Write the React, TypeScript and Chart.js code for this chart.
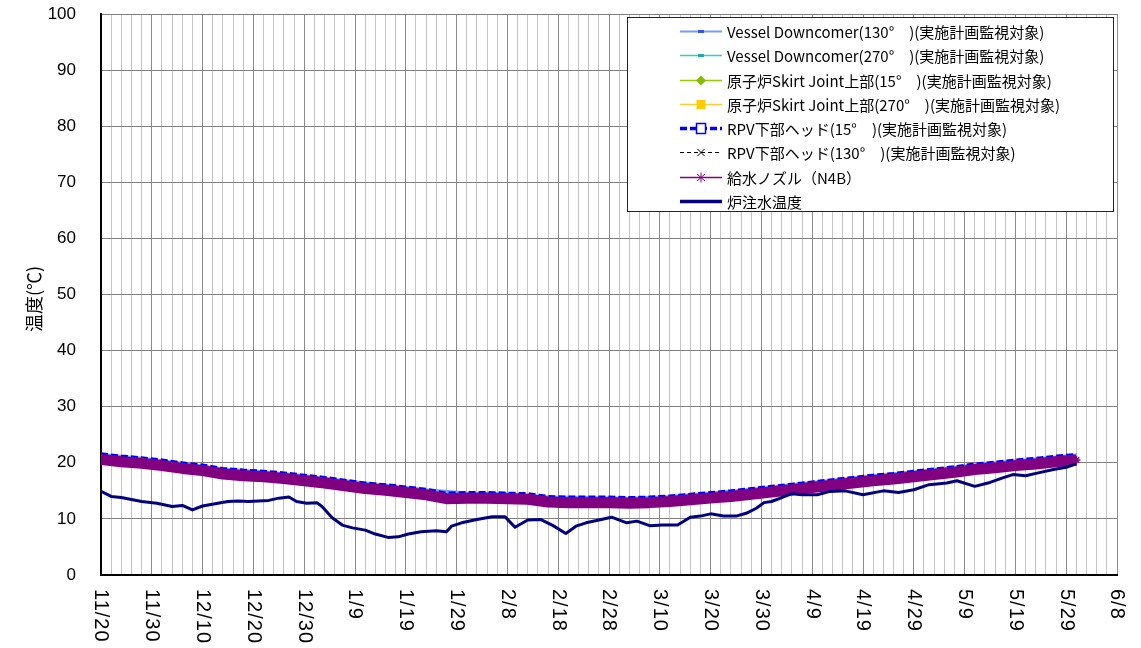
import { useEffect, useRef } from "react";
import { Chart, registerables } from "chart.js";

Chart.register(...registerables);

const FONT = '"Liberation Sans", Arial, "Noto Sans CJK JP", sans-serif';
const JFONT = '"Noto Sans CJK JP", "Liberation Sans", sans-serif';

// ---- tick labels (days since 11/20) ----
const xTickDays = [0, 10, 20, 30, 40, 50, 60, 70, 80, 90, 100, 110, 120, 130, 140, 150, 160, 170, 180, 190, 200];
const xTickLabels = ["11/20", "11/30", "12/10", "12/20", "12/30", "1/9", "1/19", "1/29", "2/8", "2/18", "2/28", "3/10", "3/20", "3/30", "4/9", "4/19", "4/29", "5/9", "5/19", "5/29", "6/8"];

// ---- series names ----
const seriesNames = [
  "Vessel Downcomer(130°　)(実施計画監視対象)",
  "Vessel Downcomer(270°　)(実施計画監視対象)",
  "原子炉Skirt Joint上部(15°　)(実施計画監視対象)",
  "原子炉Skirt Joint上部(270°　)(実施計画監視対象)",
  "RPV下部ヘッド(15°　)(実施計画監視対象)",
  "RPV下部ヘッド(130°　)(実施計画監視対象)",
  "給水ノズル（N4B）",
  "炉注水温度",
];

// ---- data ----
const bandDays = [0, 4, 8, 12, 16, 20, 24, 28, 32, 36, 40, 44, 48, 52, 56, 60, 64, 68, 72, 76, 80, 84, 88, 92, 96, 100, 104, 108, 112, 116, 120, 124, 128, 132, 136, 140, 144, 148, 152, 156, 160, 164, 168, 172, 176, 180, 184, 188, 192];
const feedwaterNozzle = [20.6, 20.2, 19.9, 19.5, 19.0, 18.6, 18.0, 17.7, 17.5, 17.2, 16.8, 16.4, 15.9, 15.4, 15.1, 14.7, 14.3, 13.6, 13.7, 13.7, 13.6, 13.5, 13.0, 12.9, 12.9, 12.9, 12.8, 12.9, 13.1, 13.4, 13.7, 14.0, 14.4, 14.8, 15.2, 15.6, 16.0, 16.4, 16.8, 17.1, 17.5, 17.9, 18.3, 18.8, 19.1, 19.5, 19.8, 20.2, 20.5];
const rpvHead15 = [21.6, 21.2, 20.9, 20.5, 20.0, 19.6, 19.0, 18.7, 18.5, 18.2, 17.8, 17.4, 16.9, 16.4, 16.1, 15.7, 15.3, 14.6, 14.7, 14.7, 14.6, 14.5, 14.0, 13.9, 13.9, 13.9, 13.8, 13.9, 14.1, 14.4, 14.7, 15.0, 15.4, 15.8, 16.2, 16.6, 17.0, 17.4, 17.8, 18.1, 18.5, 18.9, 19.3, 19.8, 20.1, 20.5, 20.8, 21.2, 21.5];

const sparseDays = [0, 8, 16, 24, 32, 40, 48, 56, 64, 72, 80, 88, 96, 104, 112, 120, 128, 136, 144, 152, 160, 168, 176, 184, 192];
const vesselDc130 = [21.5, 20.8, 19.9, 18.9, 18.4, 17.7, 16.8, 16.0, 15.2, 14.6, 14.5, 13.9, 13.8, 13.7, 14.0, 14.6, 15.3, 16.1, 16.9, 17.7, 18.4, 19.2, 20.0, 20.7, 21.4];
const vesselDc270 = [20.9, 20.2, 19.3, 18.3, 17.8, 17.1, 16.2, 15.4, 14.6, 14.0, 13.9, 13.3, 13.2, 13.1, 13.4, 14.0, 14.7, 15.5, 16.3, 17.1, 17.8, 18.6, 19.4, 20.1, 20.8];
const skirtJoint15 = [20.4, 19.7, 18.8, 17.8, 17.3, 16.6, 15.7, 14.9, 14.1, 13.5, 13.4, 12.8, 12.7, 12.6, 12.9, 13.5, 14.2, 15.0, 15.8, 16.6, 17.3, 18.1, 18.9, 19.6, 20.3];
const skirtJoint270 = [20.1, 19.4, 18.5, 17.5, 17.0, 16.3, 15.4, 14.6, 13.8, 13.2, 13.1, 12.5, 12.4, 12.3, 12.6, 13.2, 13.9, 14.7, 15.5, 16.3, 17.0, 17.8, 18.6, 19.3, 20.0];
const rpvHead130 = [20.7, 20.0, 19.1, 18.1, 17.6, 16.9, 16.0, 15.2, 14.4, 13.8, 13.7, 13.1, 13.0, 12.9, 13.2, 13.8, 14.5, 15.3, 16.1, 16.9, 17.6, 18.4, 19.2, 19.9, 20.6];

const injectionDays = [0, 2, 4, 8, 11, 14, 16, 18, 20, 23, 25, 27, 29, 31, 33, 35, 37, 38.5, 40.5, 42.5, 43.5, 45.5, 47.5, 49.5, 52, 54, 56.5, 58.5, 60.5, 63, 66, 68, 69, 71, 74, 77, 79.5, 81.5, 84, 86.5, 89, 91.5, 93.5, 95.5, 98, 100.5, 103.5, 105.5, 108, 110.5, 113.5, 116, 118, 120, 122.5, 125, 127, 129, 130.5, 132, 134, 136, 138, 141, 143.5, 146.5, 150, 154, 157, 160, 163, 166.5, 168.5, 172, 175, 177.5, 179.5, 182, 184.5, 187.5, 190, 192];
const injectionTemp = [14.9, 14.0, 13.8, 13.1, 12.8, 12.2, 12.4, 11.6, 12.3, 12.8, 13.1, 13.2, 13.1, 13.2, 13.3, 13.7, 13.9, 13.1, 12.8, 12.9, 12.2, 10.2, 8.9, 8.4, 8.0, 7.3, 6.7, 6.8, 7.3, 7.7, 7.9, 7.7, 8.7, 9.3, 9.9, 10.4, 10.4, 8.5, 9.8, 9.9, 8.8, 7.4, 8.7, 9.3, 9.8, 10.3, 9.3, 9.6, 8.8, 8.9, 8.9, 10.3, 10.5, 10.9, 10.5, 10.5, 11.0, 11.9, 12.9, 13.1, 13.8, 14.5, 14.3, 14.3, 14.9, 15.0, 14.3, 15.0, 14.7, 15.2, 16.1, 16.4, 16.8, 15.8, 16.5, 17.3, 17.9, 17.7, 18.2, 18.8, 19.2, 19.8];

// ---- styles ----
type Style = { color: string; width: number; dash?: number[]; marker: string; markerColor: string };
const styles: Style[] = [
  { color: "#7b98ff", width: 2, marker: "smallrect", markerColor: "#3355ee" },
  { color: "#33cccc", width: 1.5, marker: "smallrect", markerColor: "#22aaaa" },
  { color: "#99cc00", width: 1.5, marker: "diamond", markerColor: "#88bb00" },
  { color: "#ffcc33", width: 1.5, marker: "square", markerColor: "#ffcc00" },
  { color: "#0000ff", width: 3.5, dash: [7, 3], marker: "opensquare", markerColor: "#0000ff" },
  { color: "#000000", width: 1, dash: [4, 3], marker: "x", markerColor: "#000000" },
  { color: "#800080", width: 1.5, marker: "star", markerColor: "#800080" },
  { color: "#000080", width: 3.5, marker: "none", markerColor: "#000080" },
];

function pts(days: number[], vals: number[]) {
  return days.map((d, i) => ({ x: d, y: vals[i] }));
}

function drawMarker(ctx: CanvasRenderingContext2D, kind: string, x: number, y: number, color: string) {
  ctx.save();
  ctx.setLineDash([]);
  ctx.fillStyle = color;
  ctx.strokeStyle = color;
  if (kind === "smallrect") {
    ctx.fillRect(x - 3, y - 1.5, 6, 3);
  } else if (kind === "diamond") {
    ctx.beginPath();
    ctx.moveTo(x, y - 5);
    ctx.lineTo(x + 5, y);
    ctx.lineTo(x, y + 5);
    ctx.lineTo(x - 5, y);
    ctx.closePath();
    ctx.fill();
  } else if (kind === "square") {
    ctx.fillRect(x - 4.5, y - 4.5, 9, 9);
  } else if (kind === "opensquare") {
    ctx.fillStyle = "#fff";
    ctx.fillRect(x - 4.5, y - 5, 9, 10);
    ctx.lineWidth = 1.5;
    ctx.strokeRect(x - 4.5, y - 5, 9, 10);
  } else if (kind === "x") {
    ctx.lineWidth = 1;
    ctx.beginPath();
    ctx.moveTo(x - 3.5, y - 3.5);
    ctx.lineTo(x + 3.5, y + 3.5);
    ctx.moveTo(x + 3.5, y - 3.5);
    ctx.lineTo(x - 3.5, y + 3.5);
    ctx.stroke();
  } else if (kind === "star") {
    ctx.lineWidth = 1;
    ctx.beginPath();
    ctx.moveTo(x, y - 5);
    ctx.lineTo(x, y + 5);
    ctx.moveTo(x - 4, y - 3.5);
    ctx.lineTo(x + 4, y + 3.5);
    ctx.moveTo(x + 4, y - 3.5);
    ctx.lineTo(x - 4, y + 3.5);
    ctx.stroke();
  }
  ctx.restore();
}

const overlayPlugin = {
  id: "overlay",
  afterDraw(chart: any) {
    const ctx: CanvasRenderingContext2D = chart.ctx;
    const xs = chart.scales.x;
    ctx.save();
    // rotated x labels (clockwise)
    ctx.fillStyle = "#000";
    ctx.font = "20px " + FONT;
    (ctx as any).letterSpacing = "1px";
    xTickDays.forEach((d, i) => {
      const px = xs.getPixelForValue(d);
      ctx.save();
      ctx.translate(px, 589);
      ctx.rotate(Math.PI / 2);
      ctx.textAlign = "left";
      ctx.textBaseline = "middle";
      ctx.fillText(xTickLabels[i], 0, 0);
      ctx.restore();
    });
    (ctx as any).letterSpacing = "0px";

    // y axis title
    ctx.save();
    ctx.translate(34, 299);
    ctx.rotate(-Math.PI / 2);
    ctx.textAlign = "center";
    ctx.textBaseline = "middle";
    ctx.font = "18px " + JFONT;
    ctx.fillText("温度(℃)", 0, 0);
    ctx.restore();

    // legend
    const left = 627.5, top = 17.5, w = 486, h = 194;
    ctx.fillStyle = "#fff";
    ctx.fillRect(left, top, w, h);
    ctx.strokeStyle = "#222";
    ctx.lineWidth = 1;
    ctx.setLineDash([]);
    ctx.strokeRect(left, top, w, h);
    styles.forEach((s, i) => {
      const cy = Math.round(31 + i * 24.25) + 0.5;
      ctx.save();
      ctx.strokeStyle = s.color;
      ctx.lineWidth = s.width;
      ctx.setLineDash(s.dash || []);
      ctx.beginPath();
      ctx.moveTo(680, cy);
      ctx.lineTo(722, cy);
      ctx.stroke();
      ctx.restore();
      drawMarker(ctx, s.marker, 701, cy, s.markerColor);
      ctx.fillStyle = "#000";
      ctx.font = "15px " + JFONT;
      ctx.textAlign = "left";
      ctx.textBaseline = "middle";
      ctx.fillText(seriesNames[i], 727, cy + 1);
    });
    ctx.restore();
  },
};

export default function App() {
  const ref = useRef<HTMLCanvasElement | null>(null);
  useEffect(() => {
    if (!ref.current) return;
    const mk = (i: number, data: any[], order: number, extra: any = {}) => ({
      label: seriesNames[i],
      data,
      borderColor: styles[i].color,
      backgroundColor: styles[i].color,
      borderWidth: styles[i].width,
      borderDash: styles[i].dash || [],
      pointRadius: 0,
      fill: false,
      tension: 0,
      order,
      ...extra,
    });
    const chart = new Chart(ref.current, {
      type: "line",
      data: {
        datasets: [
          mk(0, pts(sparseDays, vesselDc130), 8, { borderWidth: 3 }),
          mk(1, pts(sparseDays, vesselDc270), 3),
          mk(2, pts(sparseDays, skirtJoint15), 4),
          mk(3, pts(sparseDays, skirtJoint270), 5),
          mk(4, pts(bandDays, rpvHead15), 7, { borderWidth: 3 }),
          mk(5, pts(sparseDays, rpvHead130), 6),
          mk(6, pts(bandDays, feedwaterNozzle), 1, {
            borderWidth: 11,
            pointRadius: 4,
            pointStyle: "star",
            pointBorderColor: "#800080",
            pointBorderWidth: 1.5,
            borderJoinStyle: "round",
          }),
          mk(7, pts(injectionDays, injectionTemp), 0, { borderJoinStyle: "round", borderWidth: 3 }),
        ],
      },
      options: {
        responsive: false,
        animation: false,
        events: [],
        layout: { padding: { left: 0, right: 24, top: 14, bottom: 73 } },
        plugins: { legend: { display: false }, tooltip: { enabled: false } },
        scales: {
          x: {
            type: "linear",
            min: 0,
            max: 200,
            ticks: { display: false, stepSize: 2, autoSkip: false },
            grid: {
              drawTicks: false,
              color: (c: any) => (c.tick && Math.round(c.tick.value) % 10 === 0 ? "#8c8c8c" : "#c4c4c4"),
              lineWidth: 1,
            },
            border: { display: true, color: "#000", width: 2 },
            afterFit: (s: any) => {
              s.height = 0;
            },
          },
          y: {
            min: 0,
            max: 100,
            ticks: {
              stepSize: 10,
              padding: 3,
              color: "#000",
              font: { size: 17, family: FONT },
            },
            grid: {
              drawTicks: true,
              tickLength: 22,
              tickColor: "rgba(0,0,0,0)",
              color: "#808080",
              lineWidth: 1,
            },
            border: { display: true, color: "#000", width: 2 },
            afterFit: (s: any) => {
              s.width = 101;
            },
          },
        },
      },
      plugins: [overlayPlugin],
    });
    return () => chart.destroy();
  }, []);
  return (
    <div style={{ position: "fixed", left: 0, top: 0, width: 1141, height: 648, background: "#fff" }}>
      <canvas ref={ref} width={1141} height={648} style={{ display: "block" }} />
    </div>
  );
}
